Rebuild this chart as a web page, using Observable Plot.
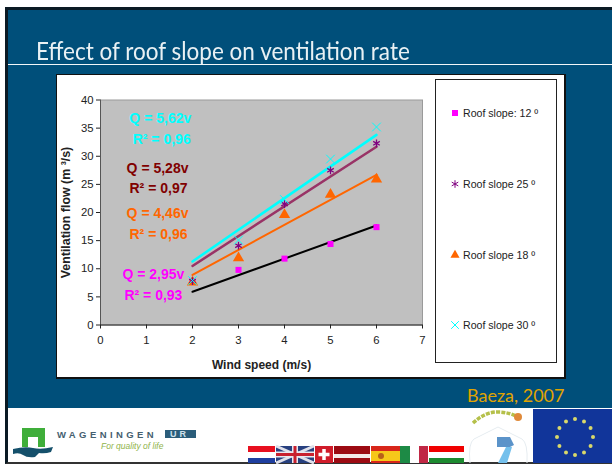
<!DOCTYPE html>
<html><head><meta charset="utf-8">
<script src="https://cdn.jsdelivr.net/npm/d3@7"></script>
<script src="https://cdn.jsdelivr.net/npm/@observablehq/plot@0.6"></script>
<style>
html,body{margin:0;padding:0;background:#fff;width:612px;height:464px;overflow:hidden}
#stage{position:relative;width:612px;height:464px;font-family:"Liberation Sans",Arial,sans-serif}
#stage>*{position:absolute}
.box{box-sizing:border-box}
#plot svg{display:block;background:transparent}
.lg{left:463px;font-size:10.6px;color:#222;white-space:nowrap;line-height:12px}
</style></head><body>
<div id="stage">
  <div class="box" style="left:5px;top:7px;width:607px;height:457px;background:#fff;border-left:3px solid #0b1a24;border-top:3px solid #0b1a24;border-bottom:2px solid #333"></div>
  <div style="left:8px;top:10px;width:604px;height:398px;background:#004f7a"></div>
  <div style="left:8px;top:64px;width:604px;height:1.4px;background:#f2f6f8"></div>
  <div id="title" style="left:36px;top:35px;font:400 25px Lato,sans-serif;color:#e9f1f4;white-space:nowrap;transform-origin:0 0;transform:scaleX(0.9)">Effect of roof slope on ventilation rate</div>
  <div class="box" style="left:56px;top:74px;width:510px;height:305px;background:#fff;border:1px solid #111;border-width:1px 2px 2px 1px"></div>
  <div class="box" style="left:435px;top:79px;width:122px;height:284px;background:#fff;border:1px solid #222"></div>
  <div id="plot" style="left:0;top:0"></div>
  <div id="legend" style="left:0;top:0"></div>
  <div style="left:467px;top:384px;font:18px Lato,sans-serif;color:#e0a400;white-space:nowrap">Baeza, 2007</div>
  <svg width="612" height="464" style="left:0;top:0;pointer-events:none;filter:blur(0.4px)">
    <path d="M22 428h23v19h-7v-10h-10v10h-6z" fill="#3fae3a"/>
    <rect x="28" y="437" width="10" height="10" fill="#fff"/>
    <path d="M13 449q12-3 20-1t20-1l-2 5q-6 2-12 1l-4 4q-8 1-12-2t-10-1z" fill="#15506b"/>
    <rect x="165" y="430" width="31" height="8" fill="#2b5d7a"/>
    <g id="flags"></g>
    <path d="M470 463q-2-20 4-24l24-12 24 12q6 4 5 24" fill="none" stroke="#e6ecf0"/>
    <path d="M497 437h13l4 8-4 2h-13z" fill="#5b93c9"/>
    <path d="M506 447l-8 16h9l5-16z" fill="#74c0ec"/>
    <path d="M473 423q12-11 24-11t21 5" fill="none" stroke="#b5c04a" stroke-width="3.5" stroke-dasharray="4 1.2"/>
    <circle cx="518" cy="417" r="4" fill="#e08a3a"/>
    <rect x="533" y="409" width="79" height="54" fill="#11359a"/>
    <g id="stars" fill="#d9d86a"></g>
  </svg>
  <div style="left:57px;top:429px;font:bold 9.5px 'Liberation Sans',sans-serif;letter-spacing:3.4px;color:#45606f;white-space:nowrap">WAGENINGEN</div>
  <div style="left:170px;top:429px;font:bold 9px 'Liberation Sans',sans-serif;letter-spacing:3px;color:#cfe0ea">UR</div>
  <div style="left:101px;top:441px;font:italic 8.5px 'Liberation Sans',sans-serif;color:#8fb34a;white-space:nowrap">For quality of life</div>
</div>
<script>
const windSpeed = [2, 3, 4, 5, 6];
const slope12 = [7.8, 9.8, 11.8, 14.4, 17.4];
const slope25 = [7.8, 14.1, 21.5, 27.5, 32.3];
const slope18 = [7.6, 11.9, 19.6, 23.2, 25.9];
const slope30 = [7.9, 15.1, 22.3, 29.5, 35.2];
const fitEnds = [2, 6];
const fit12 = [5.9, 17.7];
const fit25 = [10.5, 31.7];
const fit18 = [8.9, 26.7];
const fit30 = [11.3, 33.8];
const legendNames = ["Roof slope: 12 º", "Roof slope 25 º", "Roof slope 18 º", "Roof slope 30 º"];
const eqLabels = ["Q = 5,62v","R² = 0,96","Q = 5,28v","R² = 0,97","Q = 4,46v","R² = 0,96","Q = 2,95v","R² = 0,93"];
const eqX = [1.30,1.33,1.24,1.26,1.24,1.26,1.15,1.15];
const eqY = [36.7,33.0,27.9,24.3,19.8,16.1,9.0,5.2];
const eqColor = ["#00ffff","#00ffff","#800000","#800000","#ff6600","#ff6600","#ff00ff","#ff00ff"];
const xTicks = [0,1,2,3,4,5,6,7];
const yTicks = [0,5,10,15,20,25,30,35,40];

const pts = a => windSpeed.map((x,i)=>({x,y:a[i]}));
const fit = a => fitEnds.map((x,i)=>({x,y:a[i]}));
const eq = eqLabels.map((t,i)=>({t,x:eqX[i],y:eqY[i],c:eqColor[i]}));

const chart = Plot.plot({
  width:612, height:464,
  marginLeft:100, marginRight:190, marginTop:99.5, marginBottom:139.5,
  style:{background:"transparent",fontFamily:"'Liberation Sans',Arial,sans-serif",fontSize:"11px",color:"#222"},
  x:{domain:[0,7],label:null},
  y:{domain:[0,40],label:null},
  marks:[
    Plot.frame({fill:"#c0c0c0",stroke:"#9a9a9a"}),
    Plot.ruleX([0],{stroke:"#555"}),
    Plot.ruleY([0],{stroke:"#222"}),
    Plot.axisX({ticks:xTicks,tickFormat:"d",tickSize:4,tickPadding:7,label:null,fontSize:11.3}),
    Plot.axisY({ticks:yTicks,tickFormat:"d",tickSize:4,tickPadding:3,label:null,fontSize:11.3}),
    Plot.text(["Wind speed (m/s)"],{x:[3.5],y:[-7.2],text:d=>d,fontWeight:"bold",fontSize:12,clip:false}),
    Plot.text(["Ventilation flow (m ³/s)"],{x:[-0.75],y:[20],text:d=>d,rotate:-90,fontWeight:"bold",fontSize:12.4,clip:false}),
    Plot.line(fit(fit12),{x:"x",y:"y",stroke:"#000",strokeWidth:2}),
    Plot.line(fit(fit18),{x:"x",y:"y",stroke:"#ff6600",strokeWidth:2}),
    Plot.line(fit(fit25),{x:"x",y:"y",stroke:"#993366",strokeWidth:2.5}),
    Plot.line(fit(fit30),{x:"x",y:"y",stroke:"#00ffff",strokeWidth:2.5}),
    Plot.dot(pts(slope12),{x:"x",y:"y",symbol:"square",r:3.4,fill:"#ff00ff"}),
    Plot.dot(pts(slope18),{x:"x",y:"y",symbol:"triangle",r:4.2,fill:"#ff6600"}),
    Plot.dot(pts(slope25),{x:"x",y:"y",symbol:"asterisk",r:3.6,stroke:"#800080",strokeWidth:1.3}),
    Plot.dot(pts(slope30),{x:"x",y:"y",symbol:"times",r:4,stroke:"#00ffff",strokeWidth:1}),
    Plot.text(eq,{x:"x",y:"y",text:"t",fill:"c",fontWeight:"bold",fontSize:14})
  ]
});
document.getElementById("plot").appendChild(chart);

// legend
const lgY = [113,184,255,325];
const lgSym = [d3.symbolSquare,d3.symbolAsterisk,d3.symbolTriangle,d3.symbolTimes];
const lgFill = ["#ff00ff","none","#ff6600","none"];
const lgStroke = ["none","#800080","none","#00ffff"];
const lgSize = [36,40,36,40];
const lg = document.getElementById("legend");
legendNames.forEach((n,i)=>{
  const d=document.createElement("div");d.className="lg";d.style.position="absolute";
  d.style.top=(lgY[i]-6.5)+"px";d.textContent=n;lg.appendChild(d);
  const s=d3.create("svg").attr("width",14).attr("height",14).style("position","absolute")
    .style("left","448px").style("top",(lgY[i]-7)+"px");
  s.append("path").attr("transform","translate(7,7)").attr("d",d3.symbol(lgSym[i],lgSize[i])())
    .attr("fill",lgFill[i]).attr("stroke",lgStroke[i]);
  lg.appendChild(s.node());
});

// footer flags
const flags=[
  [248,27,[[0,6,"#e8101f"],[6,6,"#fff"],[12,5,"#1f3f9f"]]],
  [276,38,[[0,17,"#27407f"]]],
  [315,18,[[0,17,"#d01c2a"]]],
  [334,36,[[0,8,"#9c0a12"],[8,4,"#f4e8e8"],[12,5,"#9c0a12"]]],
  [371,29,[[0,5,"#d8261a"],[5,10,"#f6c81a"],[15,2,"#d8261a"]]],
  [400,10,[[0,17,"#1d8a45"]]],[410,9,[[0,17,"#fff"]]],[419,9,[[0,17,"#c02845"]]],
  [429,35,[[0,6,"#f00000"],[6,6,"#fff"],[12,5,"#1d8a30"]]]
];
const fg=d3.select("#flags");
flags.forEach(([x,w,cs])=>cs.forEach(([o,h,c])=>fg.append("rect").attr("x",x).attr("width",w)
  .attr("y",446+o).attr("height",h).attr("fill",c)));
fg.append("path").attr("d","M276 446l38 17M314 446l-38 17").attr("stroke","#dfe0ea").attr("stroke-width",3);
fg.append("path").attr("d","M295 446v17M276 454.5h38").attr("stroke","#e8e8f0").attr("stroke-width",6);
fg.append("path").attr("d","M295 446v17M276 454.5h38").attr("stroke","#c8202f").attr("stroke-width",3);
fg.append("path").attr("d","M324 449v11M318.500 454.500h11").attr("stroke","#fff").attr("stroke-width",3.5);
fg.append("circle").attr("cx",381).attr("cy",456).attr("r",3).attr("fill","#b8601a");
const st=d3.select("#stars");
d3.range(12).forEach(i=>{const a=i*Math.PI/6;st.append("circle").attr("cx",575+18*Math.sin(a)).attr("cy",437-18*Math.cos(a)).attr("r",2);});
</script>
</body></html>
